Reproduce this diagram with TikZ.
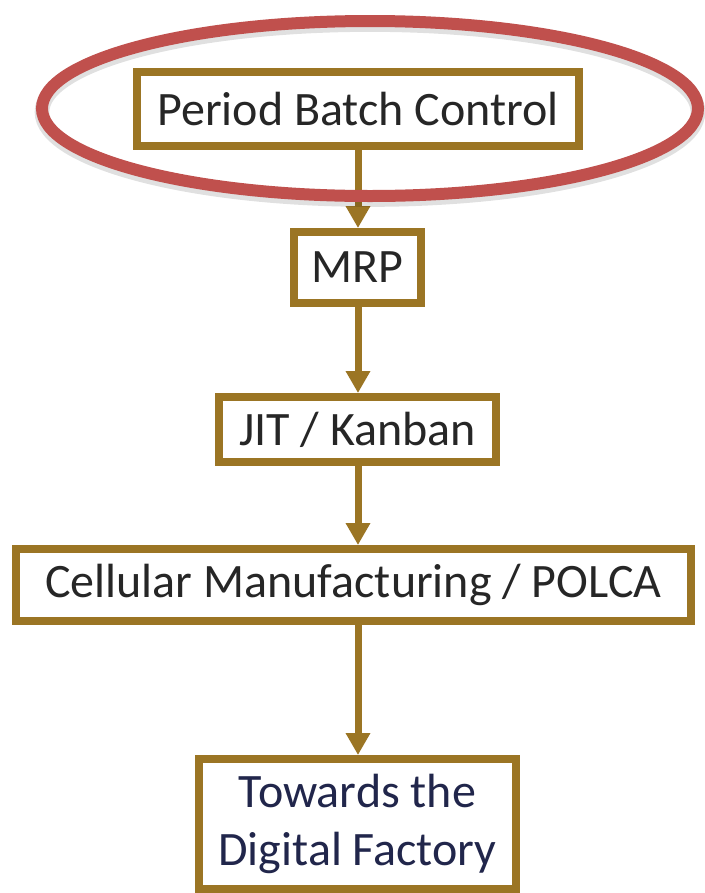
\documentclass[tikz,border=0pt]{standalone}
\usepackage{fontspec}
\setmainfont{Carlito}
\usetikzlibrary{arrows.meta}
\definecolor{boxgold}{RGB}{155,117,36}
\definecolor{ringred}{RGB}{192,80,77}
\definecolor{txtdark}{RGB}{38,38,38}
\definecolor{txtnavy}{RGB}{33,38,75}
\tikzset{
  stagebox/.style={draw=boxgold, line width=6pt, fill=white, inner sep=0pt,
    text=txtdark, align=center, font=\fontsize{36}{43.5}\selectfont},
  flowarrow/.style={draw=boxgold, line width=5.25pt,
    -{Triangle[length=16.5pt,width=17.5pt]}},
}
\begin{document}
\begin{tikzpicture}[x=0.75pt,y=-0.75pt]
  \useasboundingbox (0,0) rectangle (705,893);
  \fill[white] (0,0) rectangle (705,893);

  % process stages, top to bottom
  \node[stagebox, minimum width=442*0.75pt, minimum height=74*0.75pt]
    (pbc) at (358,109) {Period Batch Control};
  \node[stagebox, minimum width=127*0.75pt, minimum height=71*0.75pt]
    (mrp) at (357.5,267.5) {MRP};
  \node[stagebox, minimum width=277*0.75pt, minimum height=65*0.75pt]
    (jit) at (357.5,429.5) {JIT / Kanban};
  \node[stagebox, minimum width=675*0.75pt, minimum height=72*0.75pt]
    (cell) at (353.5,585) {Cellular Manufacturing / POLCA};
  \node[stagebox, text=txtnavy, minimum width=317*0.75pt, minimum height=130*0.75pt]
    (dig) at (357.5,824) {Towards the\\Digital Factory};

  % connectors
  \draw[flowarrow] (pbc.south -| 358,0) -- (mrp.north -| 358,0);
  \draw[flowarrow] (mrp.south -| 358,0) -- (jit.north -| 358,0);
  \draw[flowarrow] (jit.south -| 358,0) -- (cell.north -| 358,0);
  \draw[flowarrow] (cell.south -| 358,0) -- (dig.north -| 358,0);

  % highlight ring around the first stage, with a soft shadow
  \draw[black, opacity=0.12, line width=11pt] (370,112) ellipse [x radius=328, y radius=87.5];
  \draw[ringred, line width=9pt] (370,108.5) ellipse [x radius=328, y radius=87.5];
\end{tikzpicture}
\end{document}
